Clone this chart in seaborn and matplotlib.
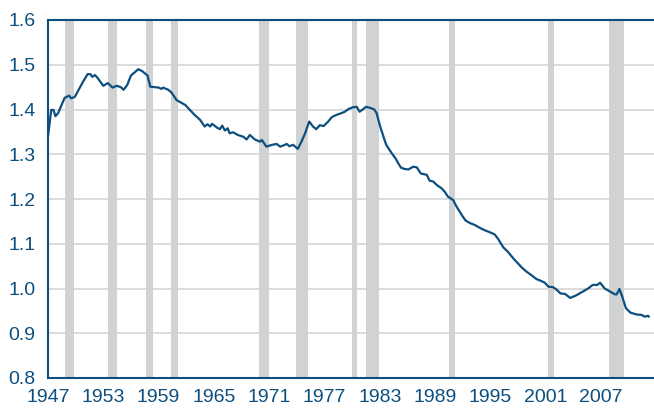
import matplotlib
matplotlib.use("Agg")
import matplotlib.pyplot as plt
import seaborn as sns

# traced series (year, value)
years = [1947.0, 1947.35, 1947.6, 1947.8, 1948.1, 1948.55, 1948.8, 1949.3, 1949.5, 1949.9,
         1950.4, 1950.8, 1951.3, 1951.6, 1951.8, 1952.1, 1952.4, 1953.0, 1953.5, 1954.0,
         1954.45, 1954.9, 1955.2, 1955.6, 1956.0, 1956.4, 1956.8, 1957.2, 1957.8, 1958.1,
         1958.6, 1959.0, 1959.3, 1959.5, 1960.05, 1960.4, 1960.95, 1961.3, 1961.9, 1962.4,
         1962.9, 1963.5, 1964.0, 1964.3, 1964.6, 1964.8, 1965.3, 1965.65, 1965.9, 1966.2,
         1966.5, 1966.7, 1967.1, 1967.6, 1968.2, 1968.55, 1968.9, 1969.45, 1970.0, 1970.2,
         1970.5, 1970.7, 1971.3, 1971.8, 1972.2, 1972.7, 1972.9, 1973.2, 1973.6, 1974.1,
         1974.5, 1974.9, 1975.2, 1975.35, 1975.75, 1976.1, 1976.5, 1976.9, 1977.4, 1977.8,
         1978.3, 1978.85, 1979.2, 1979.6, 1980.1, 1980.5, 1980.8, 1981.2, 1981.5, 1981.9,
         1982.4, 1982.65, 1983.0, 1983.4, 1983.7, 1984.3, 1984.7, 1985.0, 1985.3, 1985.7,
         1986.1, 1986.6, 1987.0, 1987.45, 1988.1, 1988.4, 1988.8, 1989.2, 1989.7, 1990.05,
         1990.4, 1990.95, 1991.3, 1991.9, 1992.3, 1992.8, 1993.3, 1993.9, 1994.4, 1994.9,
         1995.45, 1995.8, 1996.4, 1996.9, 1997.5, 1998.0, 1998.4, 1998.9, 1999.5, 2000.0,
         2000.5, 2000.9, 2001.3, 2001.8, 2002.2, 2002.6, 2003.1, 2003.65, 2004.25, 2004.85,
         2005.3, 2005.6, 2006.1, 2006.6, 2006.9, 2007.4, 2007.9, 2008.5, 2008.7, 2009.0,
         2009.3, 2009.7, 2010.2, 2010.85, 2011.4, 2011.75, 2012.1, 2012.2]
values = [1.340, 1.399, 1.399, 1.385, 1.392, 1.414, 1.426, 1.431, 1.425, 1.428,
          1.447, 1.462, 1.479, 1.479, 1.473, 1.477, 1.470, 1.453, 1.459, 1.449,
          1.453, 1.450, 1.444, 1.455, 1.476, 1.483, 1.490, 1.486, 1.476, 1.451,
          1.450, 1.449, 1.446, 1.449, 1.444, 1.438, 1.421, 1.417, 1.410, 1.399,
          1.388, 1.377, 1.362, 1.367, 1.362, 1.368, 1.360, 1.356, 1.364, 1.353,
          1.358, 1.347, 1.349, 1.343, 1.339, 1.333, 1.343, 1.333, 1.328, 1.332,
          1.323, 1.317, 1.321, 1.323, 1.317, 1.321, 1.323, 1.318, 1.321, 1.312,
          1.328, 1.347, 1.365, 1.373, 1.362, 1.356, 1.365, 1.363, 1.373, 1.383,
          1.388, 1.392, 1.395, 1.401, 1.405, 1.406, 1.395, 1.401, 1.406, 1.404,
          1.400, 1.392, 1.365, 1.339, 1.321, 1.302, 1.291, 1.280, 1.270, 1.267,
          1.266, 1.272, 1.271, 1.257, 1.254, 1.241, 1.239, 1.231, 1.224, 1.216,
          1.205, 1.198, 1.184, 1.164, 1.152, 1.146, 1.142, 1.135, 1.130, 1.126,
          1.121, 1.112, 1.092, 1.082, 1.067, 1.056, 1.047, 1.038, 1.029, 1.021,
          1.017, 1.013, 1.004, 1.003, 0.997, 0.989, 0.988, 0.979, 0.984, 0.991,
          0.996, 1.000, 1.008, 1.008, 1.013, 1.000, 0.994, 0.987, 0.987, 0.999,
          0.982, 0.956, 0.946, 0.942, 0.941, 0.937, 0.939, 0.937]

# recession periods
rec_start = [1948.85, 1953.5, 1957.6, 1960.3, 1969.9, 1973.9, 1980.0, 1981.5, 1990.5, 2001.2, 2007.9]
rec_end = [1949.85, 1954.45, 1958.35, 1961.1, 1970.95, 1975.2, 1980.55, 1982.95, 1991.2, 2001.95, 2009.5]

xticks = [1947, 1953, 1959, 1965, 1971, 1977, 1983, 1989, 1995, 2001, 2007]
yticks = [0.8, 0.9, 1.0, 1.1, 1.2, 1.3, 1.4, 1.5, 1.6]

blue = "#0c4f7e"
sns.set_style("white")
plt.rcParams["font.family"] = ["Liberation Sans", "DejaVu Sans"]

fig = plt.figure(figsize=(6.54, 4.08), dpi=100)
ax = fig.add_axes([48 / 654, 30 / 408, 1 - 48 / 654, 358 / 408])

for y in yticks[1:-1]:
    ax.axhline(y, color="#d9d9d9", lw=1.3, zorder=0)
for s, e in zip(rec_start, rec_end):
    ax.axvspan(s, e, color="#d1d2d4", lw=0, zorder=1)

sns.lineplot(x=years, y=values, ax=ax, color=blue, lw=1.6, zorder=3)

ax.set_xlim(1947, 2012.75)
ax.set_ylim(0.8, 1.6)
ax.set_xticks(xticks)
ax.set_xticklabels([str(t) for t in xticks])
ax.set_yticks(yticks)
ax.set_yticklabels([f"{t:.1f}" for t in yticks])
ax.tick_params(axis="both", direction="in", length=5, width=1.2, color=blue,
               labelcolor=blue, labelsize=14)
ax.tick_params(axis="x", pad=8)
ax.tick_params(axis="y", length=3, pad=9)

for side in ["left", "bottom", "top"]:
    ax.spines[side].set_color(blue)
    ax.spines[side].set_linewidth(1.5)
ax.spines["right"].set_visible(False)

fig.savefig("out.png", dpi=100)
